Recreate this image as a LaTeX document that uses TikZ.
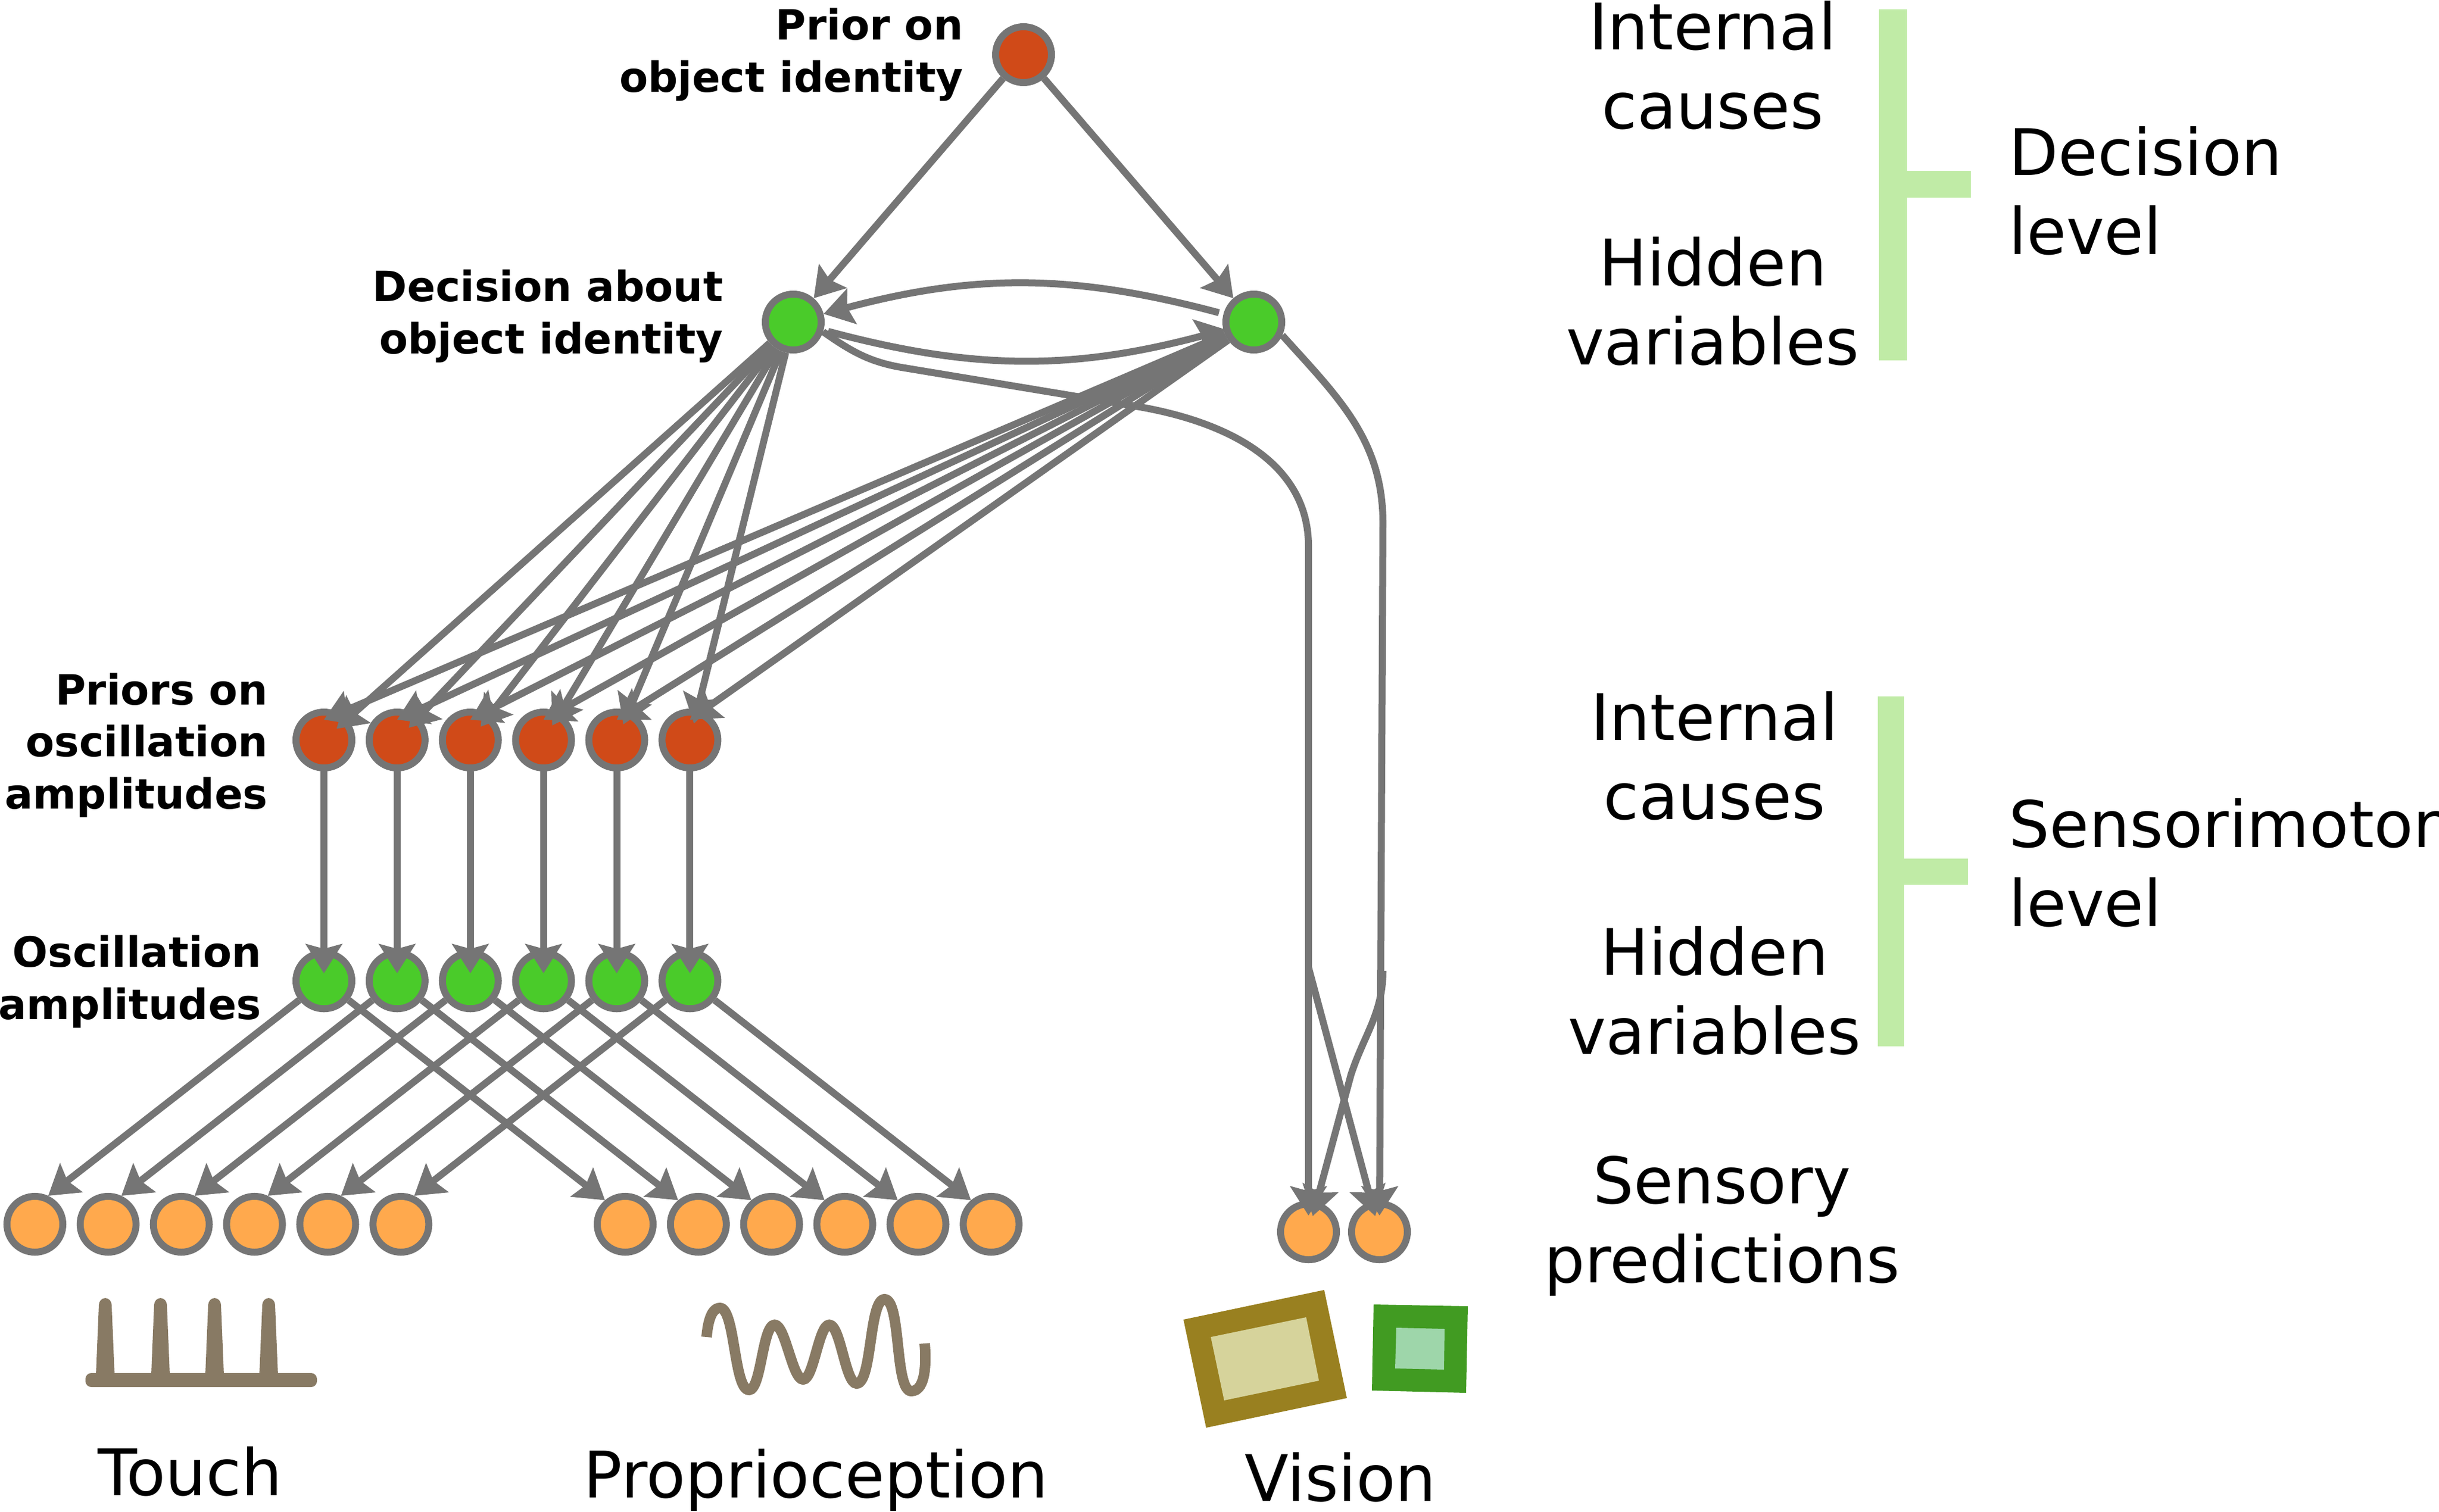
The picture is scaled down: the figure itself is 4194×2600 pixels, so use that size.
\documentclass[tikz,border=0pt]{standalone}
\usepackage{fontspec}
\setmainfont{DejaVu Sans}
\usetikzlibrary{arrows.meta}
\usetikzlibrary{positioning}
\definecolor{mygray}{RGB}{117,117,117}
\definecolor{myred}{RGB}{208,74,24}
\definecolor{mygreen}{RGB}{74,203,42}
\definecolor{myorange}{RGB}{255,169,77}
\definecolor{mybrown}{RGB}{136,122,100}
\definecolor{mybracket}{RGB}{192,235,166}
\definecolor{myolive}{RGB}{153,128,32}
\definecolor{mysand}{RGB}{214,211,155}
\definecolor{myleaf}{RGB}{65,155,34}
\definecolor{mymint}{RGB}{158,214,170}
\newcommand\mynode[3][]{%
  \node[mynode,fill=#3,#1] (#2) {};
}
\begin{document}
\begin{tikzpicture}[x=0.01cm, y=-0.01cm, >={Stealth[length=0.5cm,width=0.62cm,inset=0.08cm]},
mynode/.style={
  circle,
  draw=mygray,
  line width=0.12cm,
  minimum size=0.96cm,
  inner sep=0pt},
myarrow/.style={->, draw=mygray, line width=0.12cm},
bigtext/.style={align=center, inner sep=0pt, font=\fontsize{31.4}{38.7}\selectfont},
boldtext/.style={align=right, anchor=east, inner sep=0pt, font=\fontsize{20.4}{25.5}\selectfont\bfseries}
]
\useasboundingbox (0,0) rectangle (4194,2600);
% top of the hierarchy
\mynode[at={(1760,94)}]{prior}{myred}
\mynode[at={(1364,554)}]{dl}{mygreen}
\mynode[at={(2156,554)}]{dr}{mygreen}
% priors on amplitudes
\mynode[at={(557,1273)}]{pr1}{myred}
\mynode[right=0.178cm of pr1]{pr2}{myred}
\mynode[right=0.178cm of pr2]{pr3}{myred}
\mynode[right=0.178cm of pr3]{pr4}{myred}
\mynode[right=0.178cm of pr4]{pr5}{myred}
\mynode[right=0.178cm of pr5]{pr6}{myred}
% amplitudes
\mynode[below=3.06cm of pr1]{os1}{mygreen}
\mynode[below=3.06cm of pr2]{os2}{mygreen}
\mynode[below=3.06cm of pr3]{os3}{mygreen}
\mynode[below=3.06cm of pr4]{os4}{mygreen}
\mynode[below=3.06cm of pr5]{os5}{mygreen}
\mynode[below=3.06cm of pr6]{os6}{mygreen}
% sensory predictions
\mynode[at={(60,2106)}]{ta1}{myorange}
\mynode[right=0.178cm of ta1]{ta2}{myorange}
\mynode[right=0.178cm of ta2]{ta3}{myorange}
\mynode[right=0.178cm of ta3]{ta4}{myorange}
\mynode[right=0.178cm of ta4]{ta5}{myorange}
\mynode[right=0.178cm of ta5]{ta6}{myorange}
\mynode[at={(1075,2106)}]{pp1}{myorange}
\mynode[right=0.178cm of pp1]{pp2}{myorange}
\mynode[right=0.178cm of pp2]{pp3}{myorange}
\mynode[right=0.178cm of pp3]{pp4}{myorange}
\mynode[right=0.178cm of pp4]{pp5}{myorange}
\mynode[right=0.178cm of pp5]{pp6}{myorange}
\mynode[at={(2250,2119)}]{v1}{myorange}
\mynode[at={(2372,2119)}]{v2}{myorange}
% arrows at the top
\draw [myarrow] (prior) -- (dl);
\draw [myarrow] (prior) -- (dr);
\draw [myarrow, shorten <=0.08cm] (dr) to [bend right=15] (dl);
\draw [myarrow, shorten <=0.08cm, shorten >=-0.04cm] (dl) to [bend right=15] (dr);
\draw [myarrow, shorten >=-0.25cm] (dl) -- (pr1);
\draw [myarrow, shorten >=-0.25cm] (dl) -- (pr2);
\draw [myarrow, shorten >=-0.25cm] (dl) -- (pr3);
\draw [myarrow, shorten >=-0.25cm] (dl) -- (pr4);
\draw [myarrow, shorten >=-0.25cm] (dl) -- (pr5);
\draw [myarrow, shorten >=-0.25cm] (dl) -- (pr6);
\draw [myarrow] (dr) -- ([yshift=0.35cm]pr1.center);
\draw [myarrow] (dr) -- ([yshift=0.35cm]pr2.center);
\draw [myarrow] (dr) -- ([yshift=0.35cm]pr3.center);
\draw [myarrow] (dr) -- ([yshift=0.35cm]pr4.center);
\draw [myarrow] (dr) -- ([yshift=0.35cm]pr5.center);
\draw [myarrow] (dr) -- ([yshift=0.35cm]pr6.center);
% priors to amplitudes
\draw [myarrow, shorten >=-0.41cm] (pr1) -- (os1);
\draw [myarrow, shorten >=-0.41cm] (pr2) -- (os2);
\draw [myarrow, shorten >=-0.41cm] (pr3) -- (os3);
\draw [myarrow, shorten >=-0.41cm] (pr4) -- (os4);
\draw [myarrow, shorten >=-0.41cm] (pr5) -- (os5);
\draw [myarrow, shorten >=-0.41cm] (pr6) -- (os6);
% amplitudes to sensory predictions
\draw [myarrow] (os1) -- (ta1.65);
\draw [myarrow] (os2) -- (ta2.65);
\draw [myarrow] (os3) -- (ta3.65);
\draw [myarrow] (os4) -- (ta4.65);
\draw [myarrow] (os5) -- (ta5.65);
\draw [myarrow] (os6) -- (ta6.65);
\draw [myarrow] (os1) -- (pp1.130);
\draw [myarrow] (os2) -- (pp2.130);
\draw [myarrow] (os3) -- (pp3.130);
\draw [myarrow] (os4) -- (pp4.130);
\draw [myarrow] (os5) -- (pp5.130);
\draw [myarrow] (os6) -- (pp6.130);
% the two long curves to vision
\coordinate (la) at (1556,633);
\coordinate (lb) at (1960,700);
\coordinate (lc) at (2250,940);
\coordinate (ld) at (2250,1664);
\coordinate (rc) at (2378,900);
\coordinate (rd) at (2378,1670);
\coordinate (re) at (2323,1849);
\draw [myarrow, shorten >=-0.26cm] (dl.-18) to [out=-35, in=171] (la) -- (lb) to [out=-10, in=90] (lc) -- (v1);
\draw [myarrow, shorten >=-0.26cm] (ld) -- (v2);
\draw [myarrow, shorten >=-0.26cm] (dr.-25) to [out=-48, in=90] (rc) -- (v2);
\draw [myarrow, shorten >=-0.26cm] (rd) to [out=-90, in=72] (re) -- (v1);
% brackets
\fill [mybracket] (3231,16) rectangle (3279,620);
\fill [mybracket] (3279,294) rectangle (3389,340);
\fill [mybracket] (3229,1198) rectangle (3274,1800);
\fill [mybracket] (3274,1477) rectangle (3384,1522);
% touch icon
\fill [mybrown, rounded corners=0.1cm] (147,2362) rectangle (545,2386);
\fill [mybrown] (165,2365) -- (170,2245) to [out=90, in=180] (181,2233) to [out=0, in=90] (192,2245) -- (197,2365) -- cycle;
\fill [mybrown] (260,2365) -- (265,2245) to [out=90, in=180] (276,2233) to [out=0, in=90] (287,2245) -- (292,2365) -- cycle;
\fill [mybrown] (353,2365) -- (358,2245) to [out=90, in=180] (369,2233) to [out=0, in=90] (380,2245) -- (385,2365) -- cycle;
\fill [mybrown] (446,2365) -- (451,2245) to [out=90, in=180] (462,2233) to [out=0, in=90] (473,2245) -- (478,2365) -- cycle;
% proprioception icon
\draw [mybrown, line width=0.18cm, looseness=0.45] (1215,2300) to [out=85, in=180, looseness=0.8] (1238,2250) to [out=0, in=180] (1288,2391) to [out=0, in=180] (1332,2279) to [out=0, in=180] (1381,2373) to [out=0, in=180] (1426,2279) to [out=0, in=180] (1473,2380) to [out=0, in=180] (1521,2235) to [out=0, in=180] (1567,2393) to [out=0, in=-85, looseness=0.8] (1590,2311);
% vision icons
\fill [myolive] (2035,2270) -- (2277,2219) -- (2316,2405) -- (2074,2456) -- cycle;
\fill [mysand] (2082,2300) -- (2246,2266) -- (2268,2375) -- (2105,2409) -- cycle;
\fill [myleaf] (2362,2244) -- (2524,2247) -- (2521,2396) -- (2359,2392) -- cycle;
\fill [mymint] (2401,2284) -- (2484,2286) -- (2483,2356) -- (2399,2354) -- cycle;
% labels
\node [boldtext] (t1) at (1657,94) {Prior on\\object identity};
\node [boldtext] (t2) at (1244,544) {Decision about\\object identity};
\node [boldtext] (t3) at (461,1282) {Priors on\\oscillation\\amplitudes};
\node [boldtext] (t4) at (450,1689) {Oscillation\\amplitudes};
\node [bigtext] (t5) at (2945,112) {Internal\\causes};
\node [bigtext] (t6) at (2945,518) {Hidden\\variables};
\node [bigtext, align=left, anchor=west] (t7) at (3454,328) {Decision\\level};
\node [bigtext] (t8) at (2948,1300) {Internal\\causes};
\node [bigtext] (t9) at (2948,1704) {Hidden\\variables};
\node [bigtext, align=left, anchor=west] (t10) at (3454,1484) {Sensorimotor\\level};
\node [bigtext] (t11) at (2961,2109) {Sensory\\predictions};
\node [bigtext, anchor=base] (t12) at (327,2572) {Touch};
\node [bigtext, anchor=base] (t13) at (1403,2576) {Proprioception};
\node [bigtext, anchor=base] (t14) at (2305,2582) {Vision};
\end{tikzpicture}
\end{document}
